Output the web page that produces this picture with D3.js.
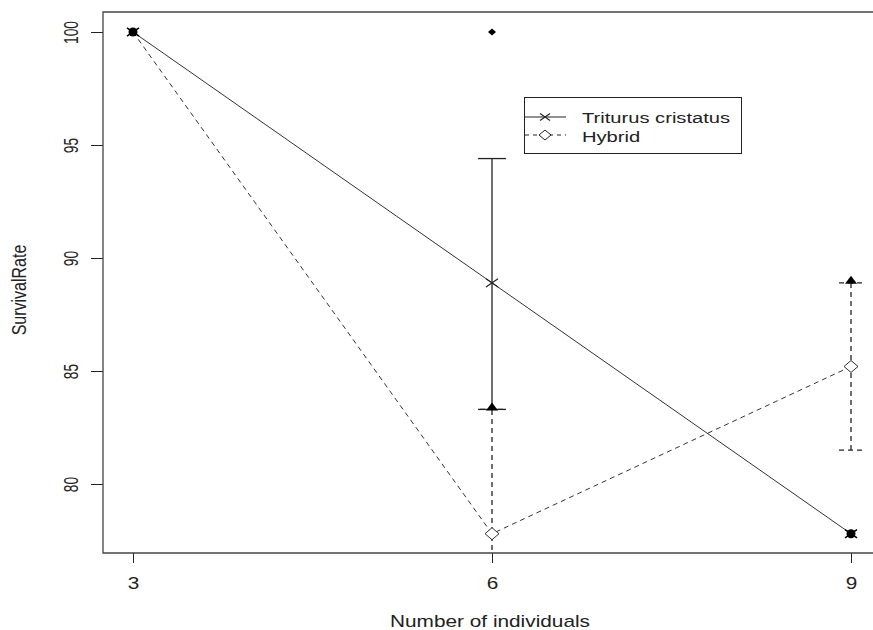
<!DOCTYPE html>
<html>
<head>
<meta charset="utf-8">
<script src="https://cdn.jsdelivr.net/npm/d3@7"></script>
<style>
  body { margin: 0; background: #fff; }
  svg { display: block; font-family: "Liberation Sans", Arial, sans-serif; }
</style>
</head>
<body>
<svg id="chart" width="873" height="630"></svg>
<script>
// Group sizes on the x axis
const individuals = [3, 6, 9];
const xTicks = [3, 6, 9];
const yTicks = [80, 85, 90, 95, 100];

// Mean survival rate per group
const triturusMean = [100, 88.9, 77.8];
const hybridMean = [100, 77.8, 85.2];

// Error bar limits
const triturusLow = [100, 83.3, 77.8];
const triturusHigh = [100, 94.4, 77.8];
const hybridLow = [100, 72.3, 81.5];
const hybridHigh = [100, 83.3, 88.9];

// Isolated observation plotted as a filled point
const extraX = [6];
const extraY = [100];

const svg = d3.select("#chart");
const ink = "#222";
const stretch = 1.3;   // wide lettering

const plot = { left: 103, top: 12, right: 873, bottom: 553 };
const x = d3.scaleLinear().domain([3, 9]).range([133, 851]);
const y = d3.scaleLinear().domain([80, 100]).range([484, 32]);

svg.append("defs").append("clipPath").attr("id", "clip")
  .append("rect")
  .attr("x", plot.left).attr("y", plot.top)
  .attr("width", plot.right - plot.left).attr("height", plot.bottom - plot.top);

// Axes
const xAxis = d3.axisBottom(x).tickValues(xTicks).tickSize(10).tickFormat(d3.format("d"));
const gx = svg.append("g").attr("transform", `translate(0,${plot.bottom})`).call(xAxis);
gx.select(".domain").remove();
gx.selectAll("line").attr("stroke", ink);
gx.selectAll("text")
  .attr("font-size", 16).attr("fill", ink)
  .attr("y", 0).attr("dy", 0)
  .attr("transform", `translate(0,36) scale(${stretch},1)`);

const yAxis = d3.axisLeft(y).tickValues(yTicks).tickSize(12).tickFormat(d3.format("d"));
const gy = svg.append("g").attr("transform", `translate(${plot.left},0)`).call(yAxis);
gy.select(".domain").remove();
gy.selectAll("line").attr("stroke", ink);
gy.selectAll("text")
  .attr("font-size", 16).attr("fill", ink)
  .attr("x", 0).attr("y", 0).attr("dy", 0)
  .attr("text-anchor", "middle")
  .attr("transform", `translate(-25.5,0) scale(${stretch},0.86) rotate(-90)`);

// Plot frame
svg.append("path")
  .attr("d", `M${plot.right},${plot.top}H${plot.left}V${plot.bottom}H${plot.right}`)
  .attr("fill", "none").attr("stroke", "#444").attr("stroke-width", 1.3);

// Axis titles
svg.append("text").attr("transform", `translate(490,627) scale(${stretch},1)`).attr("text-anchor", "middle")
  .attr("font-size", 16).attr("fill", ink).text("Number of individuals");
svg.append("text").attr("transform", `translate(25.5,290) scale(${stretch},1) rotate(-90)`)
  .attr("text-anchor", "middle").attr("font-size", 16).attr("fill", ink).text("SurvivalRate");

const g = svg.append("g").attr("clip-path", "url(#clip)");
const dash = "5,4";

const rows = individuals.map((v, i) => ({
  x: v, tm: triturusMean[i], hm: hybridMean[i],
  tl: triturusLow[i], th: triturusHigh[i], hl: hybridLow[i], hh: hybridHigh[i]
}));

// Error bars: solid for Triturus cristatus, dashed for the hybrid
rows.filter(d => d.th !== d.tl).forEach(d => {
  g.append("line").attr("x1", x(d.x)).attr("x2", x(d.x)).attr("y1", y(d.tl)).attr("y2", y(d.th))
    .attr("stroke", ink).attr("stroke-width", 1.3);
  [d.tl, d.th].forEach(v => g.append("line")
    .attr("x1", x(d.x) - 14).attr("x2", x(d.x) + 14).attr("y1", y(v)).attr("y2", y(v))
    .attr("stroke", ink).attr("stroke-width", 1.3));
});
rows.filter(d => d.hh !== d.hl).forEach(d => {
  g.append("line").attr("x1", x(d.x)).attr("x2", x(d.x)).attr("y1", y(d.hl)).attr("y2", y(d.hh))
    .attr("stroke", ink).attr("stroke-width", 1.3).attr("stroke-dasharray", dash);
  [d.hl, d.hh].forEach(v => g.append("line")
    .attr("x1", x(d.x) - 12).attr("x2", x(d.x) + 12).attr("y1", y(v)).attr("y2", y(v))
    .attr("stroke", ink).attr("stroke-width", 1.3).attr("stroke-dasharray", dash));
  // filled arrow head at the upper limit
  const tx = x(d.x), ty = y(d.hh);
  g.append("path").attr("d", `M${tx - 6},${ty + 1}L${tx},${ty - 7}L${tx + 6},${ty + 1}Z`).attr("fill", "#000");
});

// Mean lines
const tLine = d3.line().x(d => x(d.x)).y(d => y(d.tm));
const hLine = d3.line().x(d => x(d.x)).y(d => y(d.hm));
g.append("path").datum(rows).attr("d", tLine).attr("fill", "none").attr("stroke", "#333").attr("stroke-width", 1);
g.append("path").datum(rows).attr("d", hLine).attr("fill", "none").attr("stroke", "#333")
  .attr("stroke-width", 1).attr("stroke-dasharray", dash);

// Markers
const cross = (px, py, s) => `M${px - s},${py - s * 0.7}L${px + s},${py + s * 0.7}M${px - s},${py + s * 0.7}L${px + s},${py - s * 0.7}`;
const diamond = (px, py, w, h) => `M${px - w},${py}L${px},${py - h}L${px + w},${py}L${px},${py + h}Z`;

rows.forEach(d => {
  const collapsed = d.tl === d.th && d.hl === d.hh;
  if (d.tl === d.th) {
    // zero-width intervals show as a filled blob
    g.append("circle").attr("cx", x(d.x)).attr("cy", y(d.tm)).attr("r", 4.5).attr("fill", "#000");
    g.append("path").attr("d", cross(x(d.x), y(d.tm), 6)).attr("stroke", "#000").attr("stroke-width", 1.5);
  } else {
    g.append("path").attr("d", cross(x(d.x), y(d.tm), 6)).attr("stroke", "#222").attr("stroke-width", 1.2);
  }
  if (!collapsed) {
    g.append("path").attr("d", diamond(x(d.x), y(d.hm), 7, 6)).attr("fill", "#fff").attr("stroke", "#333").attr("stroke-width", 1);
  }
});

extraX.forEach((v, i) => {
  g.append("path").attr("d", diamond(x(v), y(extraY[i]), 4, 3.5)).attr("fill", "#000");
});

// Legend
const lg = svg.append("g");
lg.append("rect").attr("x", 524.5).attr("y", 97.5).attr("width", 217).attr("height", 56)
  .attr("fill", "#fff").attr("stroke", ink).attr("stroke-width", 1);
lg.append("line").attr("x1", 525).attr("x2", 566).attr("y1", 117).attr("y2", 117).attr("stroke", ink);
lg.append("path").attr("d", cross(545, 117, 5)).attr("stroke", ink).attr("stroke-width", 1.1);
lg.append("line").attr("x1", 525).attr("x2", 566).attr("y1", 135).attr("y2", 135).attr("stroke", ink).attr("stroke-dasharray", "4,4");
lg.append("path").attr("d", diamond(545, 135, 6, 5)).attr("fill", "#fff").attr("stroke", ink);
lg.append("text").attr("transform", `translate(582,123) scale(${stretch},1)`).attr("font-size", 15.5).attr("fill", ink).text("Triturus cristatus");
lg.append("text").attr("transform", `translate(582,142) scale(${stretch},1)`).attr("font-size", 15.5).attr("fill", ink).text("Hybrid");
</script>
</body>
</html>
